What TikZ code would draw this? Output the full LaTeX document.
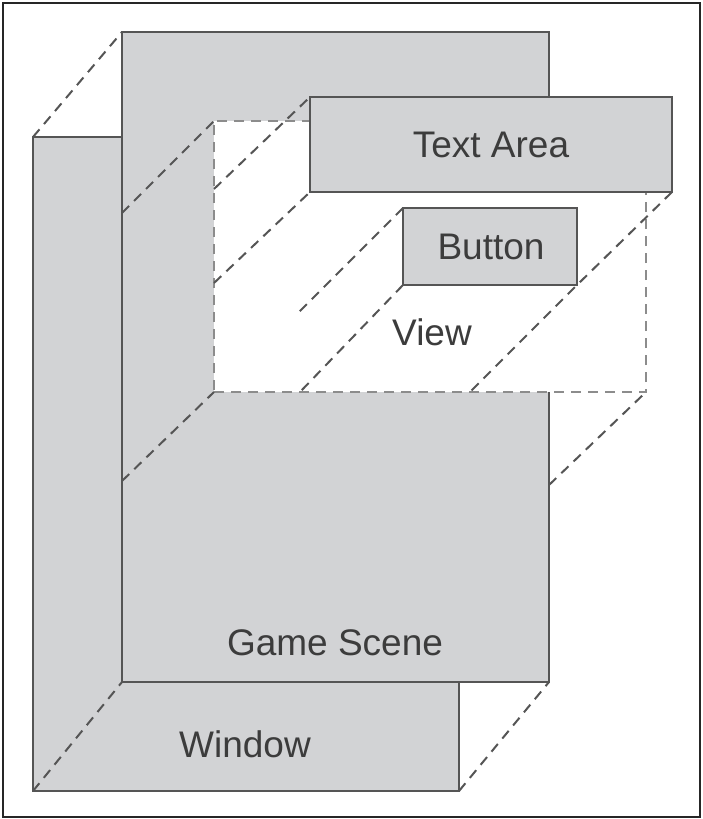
\documentclass[tikz,border=0pt]{standalone}
\usepackage{fontspec}
\setmainfont{Liberation Sans}
\begin{document}
\begin{tikzpicture}[x=1pt,y=-1pt,
  box/.style={draw=boxline, fill=boxfill, line width=2pt, inner sep=0pt, outer sep=0pt},
  viewbox/.style={draw=viewline, fill=white, line width=2pt, dash pattern=on 10pt off 7pt, inner sep=0pt, outer sep=0pt},
  conn/.style={draw=boxline, line width=2pt, dash pattern=on 10pt off 7pt},
  lbl/.style={text=txt, anchor=base, inner sep=0pt, font=\fontsize{37}{44}\selectfont}]
\definecolor{boxfill}{HTML}{D2D3D5}
\definecolor{boxline}{HTML}{555555}
\definecolor{viewline}{HTML}{8C8C8C}
\definecolor{txt}{HTML}{3C3C3C}
\useasboundingbox (0,0) rectangle (703,819);
\fill[white] (0,0) rectangle (703,819);
\draw[line width=2.5pt, draw=black!85] (3,3) rectangle (700,817);
% boxes
\node[box, minimum width=426pt, minimum height=654pt] (win) at (246,464) {};
\node[box, minimum width=427pt, minimum height=650pt] (gs) at (335.5,357) {};
\node[viewbox, minimum width=432pt, minimum height=271pt] (view) at (430,256.5) {};
\node[box, minimum width=362pt, minimum height=95pt] (ta) at (491,144.5) {};
\node[box, minimum width=174pt, minimum height=77pt] (btn) at (490,246.5) {};
% helper points
\coordinate (gsL1) at (122,213);
\coordinate (gsL2) at (122,481);
\coordinate (gsR) at (549,485);
\coordinate (vL1) at (214,189);
\coordinate (vL2) at (214,283);
\coordinate (vB1) at (300,392);
\coordinate (vB2) at (470,392);
\coordinate (free) at (296,315);
% connectors
\draw[conn] (win.north west) -- (gs.north west);
\draw[conn] (win.south west) -- (gs.south west);
\draw[conn] (win.south east) -- (gs.south east);
\draw[conn] (gsL1) -- (view.north west);
\draw[conn] (gsL2) -- (view.south west);
\draw[conn] (gsR) -- (view.south east);
\draw[conn] (vL1) -- (ta.north west);
\draw[conn] (vL2) -- (ta.south west);
\draw[conn] (ta.south east) -- (btn.south east) -- (vB2);
\draw[conn] (btn.north west) -- (free);
\draw[conn] (btn.south west) -- (vB1);
% labels
\node[lbl] (taL) at (491,157) {Text Area};
\node[lbl] (btnL) at (491,259) {Button};
\node[lbl] (viewL) at (432,345) {View};
\node[lbl] (gsL) at (335,655) {Game Scene};
\node[lbl] (winL) at (245,757) {Window};
\end{tikzpicture}
\end{document}
